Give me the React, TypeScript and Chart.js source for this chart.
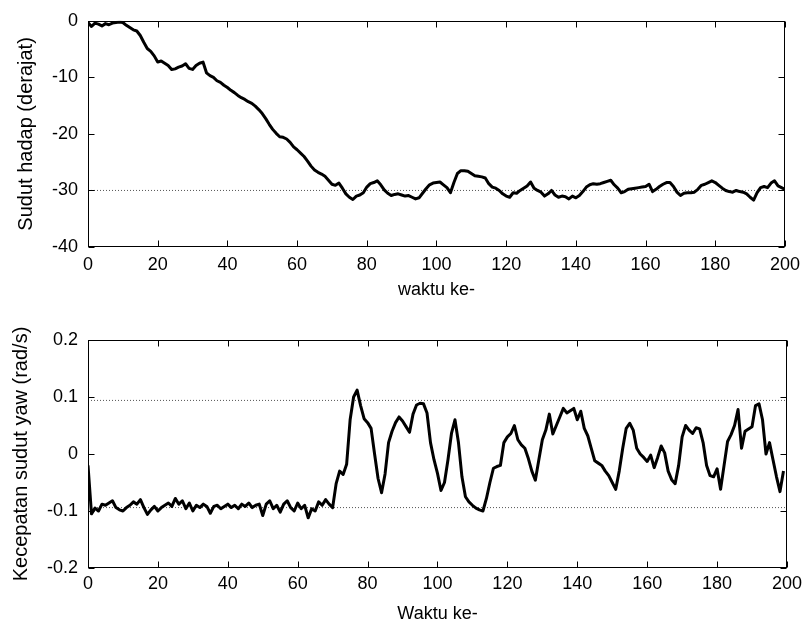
import { useEffect, useRef } from "react";
import { Chart, registerables } from "chart.js";

Chart.register(...registerables);

// x categories: time steps
const steps: number[] = Array.from({ length: 201 }, (_, i) => i);
const xMin = 0;
const xMax = 200;
const xStep = 20;

// Sudut hadap (derajat), one value per step 0..200
const headingDeg: number[] = [
  -0.3, -1.0, -0.4, -0.6, -0.9, -0.5, -0.7, -0.4, -0.3, -0.2,
  -0.3, -0.8, -1.2, -1.6, -1.8, -2.6, -3.8, -4.9, -5.4, -6.2,
  -7.3, -7.1, -7.5, -7.9, -8.6, -8.5, -8.2, -8.0, -7.6, -8.4,
  -8.6, -7.9, -7.5, -7.3, -9.2, -9.7, -10.0, -10.6, -10.9, -11.4,
  -11.8, -12.3, -12.7, -13.2, -13.6, -13.9, -14.3, -14.6, -15.1, -15.7,
  -16.4, -17.3, -18.3, -19.2, -19.9, -20.5, -20.6, -20.9, -21.5, -22.3,
  -22.8, -23.4, -24.0, -24.8, -25.7, -26.4, -26.8, -27.1, -27.5, -28.2,
  -28.9, -29.1, -28.7, -29.6, -30.6, -31.2, -31.6, -31.0, -30.8, -30.4,
  -29.4, -28.8, -28.6, -28.3, -29.0, -29.9, -30.5, -30.9, -30.7, -30.6,
  -30.8, -31.0, -30.9, -31.2, -31.5, -31.3, -30.5, -29.7, -29.0, -28.7,
  -28.6, -28.5, -29.0, -29.5, -30.4, -28.6, -27.0, -26.5, -26.5, -26.6,
  -27.0, -27.4, -27.5, -27.6, -27.8, -28.8, -29.4, -29.6, -30.0, -30.6,
  -31.0, -31.2, -30.4, -30.5, -30.0, -29.6, -29.2, -28.5, -29.6, -30.0,
  -30.3, -31.0, -30.6, -30.0, -30.8, -31.2, -31.0, -31.1, -31.5, -31.0,
  -31.3, -30.9, -30.2, -29.4, -29.0, -28.8, -28.9, -28.8, -28.6, -28.4,
  -28.2, -29.0, -29.6, -30.4, -30.2, -29.8, -29.7, -29.6, -29.5, -29.4,
  -29.3, -28.9, -30.2, -29.8, -29.3, -28.9, -28.6, -28.6, -29.3, -30.3,
  -30.9, -30.5, -30.4, -30.4, -30.3, -29.8, -29.1, -28.9, -28.6, -28.3,
  -28.6, -29.1, -29.6, -30.0, -30.2, -30.3, -30.0, -30.2, -30.3, -30.6,
  -31.2, -31.7, -30.4, -29.5, -29.3, -29.5, -28.7, -28.3, -29.2, -29.5,
  -29.8,
];

// Kecepatan sudut yaw (rad/s), one value per step 0..199
const yawRate: number[] = [
  -0.02, -0.105, -0.095, -0.1, -0.088, -0.09, -0.086, -0.082, -0.094, -0.098,
  -0.1, -0.094, -0.09, -0.084, -0.088, -0.08, -0.094, -0.106, -0.098, -0.092,
  -0.1, -0.094, -0.09, -0.086, -0.092, -0.078, -0.088, -0.082, -0.096, -0.086,
  -0.1, -0.09, -0.094, -0.088, -0.092, -0.104, -0.092, -0.09, -0.096, -0.092,
  -0.088, -0.094, -0.09, -0.096, -0.088, -0.092, -0.086, -0.094, -0.09, -0.088,
  -0.108, -0.088, -0.082, -0.096, -0.09, -0.102, -0.088, -0.082, -0.094, -0.1,
  -0.086, -0.096, -0.09, -0.112, -0.096, -0.1, -0.084, -0.09, -0.08, -0.088,
  -0.094, -0.052, -0.03, -0.036, -0.018, 0.06, 0.1, 0.112, 0.085, 0.062,
  0.055, 0.045, 0.0, -0.043, -0.068, -0.035, 0.02, 0.04, 0.055, 0.065,
  0.058, 0.048, 0.038, 0.07, 0.086, 0.089, 0.088, 0.072, 0.02, -0.01,
  -0.034, -0.064, -0.05, -0.01, 0.036, 0.06, 0.02, -0.04, -0.075, -0.084,
  -0.09, -0.095, -0.098, -0.1, -0.078, -0.05, -0.025, -0.022, -0.02, 0.02,
  0.03, 0.036, 0.05, 0.025, 0.016, 0.01, -0.008, -0.03, -0.046, -0.01,
  0.025, 0.042, 0.07, 0.035, 0.05, 0.065, 0.08, 0.072, 0.076, 0.08,
  0.06, 0.075, 0.045, 0.032, 0.01, -0.012, -0.016, -0.02, -0.03, -0.038,
  -0.05, -0.062, -0.03, 0.01, 0.045, 0.054, 0.042, 0.01, 0.0, -0.006,
  -0.013, -0.002, -0.024, -0.006, 0.014, 0.002, -0.03, -0.045, -0.052, -0.02,
  0.03, 0.05, 0.042, 0.036, 0.046, 0.044, 0.02, -0.02, -0.038, -0.04,
  -0.026, -0.062, -0.02, 0.022, 0.034, 0.05, 0.078, 0.01, 0.04, 0.044,
  0.048, 0.085, 0.088, 0.06, 0.0, 0.02, -0.01, -0.04, -0.066, -0.03,
];

// dotted reference levels
const headingRefLevels: number[] = [-30];
const yawRateRefLevels: number[] = [0.094, -0.094];

// axis ranges / ticks
const headingRange = [-40, 0];
const headingStep = 10;
const yawRange = [-0.2, 0.2];
const yawStep = 0.1;

const FONT = "'Liberation Sans', Arial, Helvetica, sans-serif";

const matlabBox = {
  id: "matlabBox",
  afterDraw(chart: any) {
    const { ctx, chartArea: a, scales } = chart;
    const L = Math.round(a.left) + 0.5;
    const R = Math.round(a.right) - 0.5;
    const T = Math.round(a.top) + 0.5;
    const B = Math.round(a.bottom) - 0.5;
    const len = 6;
    ctx.save();
    ctx.strokeStyle = "#000";
    ctx.lineWidth = 1;
    ctx.setLineDash([]);
    ctx.strokeRect(L, T, R - L, B - T);
    ctx.beginPath();
    scales.x.ticks.forEach((t: any) => {
      const px = Math.round(scales.x.getPixelForValue(t.value)) + 0.5;
      ctx.moveTo(px, T);
      ctx.lineTo(px, T + len);
      ctx.moveTo(px, B);
      ctx.lineTo(px, B - len);
    });
    scales.y.ticks.forEach((t: any) => {
      const py = Math.round(scales.y.getPixelForValue(t.value)) + 0.5;
      ctx.moveTo(L, py);
      ctx.lineTo(L + len, py);
      ctx.moveTo(R, py);
      ctx.lineTo(R - len, py);
    });
    ctx.stroke();
    ctx.restore();
  },
};

function fmt(v: number) {
  const r = Math.round(v * 1000) / 1000;
  return String(r === 0 ? 0 : r);
}

interface PanelOpts {
  series: number[];
  refs: number[];
  yRange: number[];
  yStep: number;
  xTitle: string;
  yTitle: string;
  padTop: number;
  xAxisH: number;
  xTickPad: number;
  xTitlePad: number;
  yTitlePad: number;
}

function makeConfig(o: PanelOpts): any {
  const tickFont = { family: FONT, size: 18 };
  return {
    type: "line",
    data: {
      labels: steps,
      datasets: [
        {
          data: o.series,
          borderColor: "#000",
          borderWidth: 3,
          pointRadius: 0,
          tension: 0,
          fill: false,
          borderJoinStyle: "round",
        },
        ...o.refs.map((level) => ({
          data: [
            { x: xMin, y: level },
            { x: xMax, y: level },
          ],
          borderColor: "#555",
          borderWidth: 1,
          borderDash: [1, 2],
          pointRadius: 0,
          fill: false,
        })),
      ],
    },
    options: {
      animation: false,
      responsive: false,
      devicePixelRatio: 1,
      events: [],
      layout: { padding: { left: 0, right: 19, top: o.padTop, bottom: 0 } },
      plugins: { legend: { display: false }, tooltip: { enabled: false } },
      scales: {
        x: {
          type: "linear",
          min: xMin,
          max: xMax,
          grid: { display: false, drawTicks: false },
          border: { display: false },
          ticks: {
            stepSize: xStep,
            padding: o.xTickPad,
            font: tickFont,
            color: "#000",
            maxRotation: 0,
            autoSkip: false,
            callback: (v: number) => fmt(v),
          },
          title: {
            display: true,
            text: o.xTitle,
            font: { family: FONT, size: 18 },
            color: "#000",
            padding: { top: 0, bottom: o.xTitlePad },
          },
          afterFit: (s: any) => {
            s.height = o.xAxisH;
          },
        },
        y: {
          type: "linear",
          min: o.yRange[0],
          max: o.yRange[1],
          grid: { display: false, drawTicks: false },
          border: { display: false },
          ticks: {
            stepSize: o.yStep,
            padding: 10,
            font: tickFont,
            color: "#000",
            autoSkip: false,
            callback: (v: number) => fmt(v),
          },
          title: {
            display: true,
            text: o.yTitle,
            font: { family: FONT, size: 20 },
            color: "#000",
            padding: { top: o.yTitlePad, bottom: 0 },
          },
          afterFit: (s: any) => {
            s.width = 88;
          },
        },
      },
    },
    plugins: [matlabBox],
  };
}

export default function App() {
  const topRef = useRef<HTMLCanvasElement>(null);
  const botRef = useRef<HTMLCanvasElement>(null);

  useEffect(() => {
    const c1 = new Chart(
      topRef.current as HTMLCanvasElement,
      makeConfig({
        series: headingDeg,
        refs: headingRefLevels,
        yRange: headingRange,
        yStep: headingStep,
        xTitle: "waktu ke-",
        yTitle: "Sudut hadap (derajat)",
        padTop: 19,
        xAxisH: 66,
        xTickPad: 7,
        xTitlePad: 12,
        yTitlePad: 14,
      })
    );
    const c2 = new Chart(
      botRef.current as HTMLCanvasElement,
      makeConfig({
        series: yawRate,
        refs: yawRateRefLevels,
        yRange: yawRange,
        yStep: yawStep,
        xTitle: "Waktu ke-",
        yTitle: "Kecepatan sudut yaw (rad/s)",
        padTop: 27,
        xAxisH: 58,
        xTickPad: 5,
        xTitlePad: 1,
        yTitlePad: 9,
      })
    );
    return () => {
      c1.destroy();
      c2.destroy();
    };
  }, []);

  return (
    <div
      style={{
        position: "absolute",
        left: 0,
        top: 0,
        width: 807,
        height: 626,
        background: "#fff",
      }}
    >
      <canvas ref={topRef} width={807} height={313} style={{ display: "block" }} />
      <canvas ref={botRef} width={807} height={313} style={{ display: "block" }} />
    </div>
  );
}
